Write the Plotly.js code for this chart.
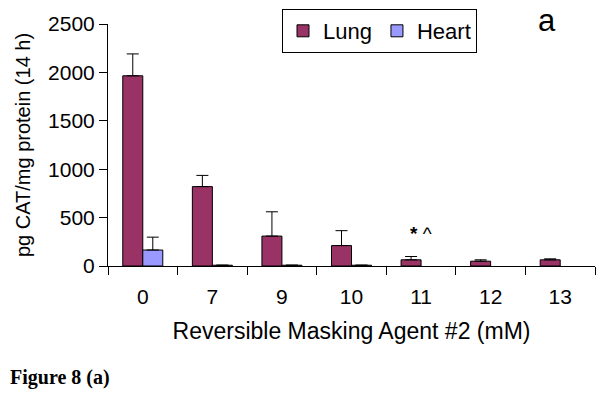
<!DOCTYPE html>
<html>
<head>
<meta charset="utf-8">
<script src="https://cdn.plot.ly/plotly-3.0.1.min.js"></script>
<style>
  body { margin: 0; background: #fff; }
  #grafico { width: 605px; height: 405px; }
</style>
</head>
<body>
<div id="grafico"></div>
<script>
const categorias = ['0', '7', '9', '10', '11', '12', '13'];
const pulmon = [1965, 820, 309, 211, 64, 50, 64];
const pulmonError = [226, 116, 251, 154, 34, 14, 10];
const corazon = [165, 8, 8, 8, null, null, null];
const corazonError = [133, 0, 0, 0, 0, 0, 0];
const ceros = [0, 0, 0, 0, 0, 0, 0];

const fuente = 'Liberation Sans, Arial, sans-serif';
const ancho = 605 - 108 - 10, alto = 405 - 23 - 139;

const trazas = [
  {
    type: 'bar', name: 'Lung', x: categorias, y: pulmon,
    marker: { color: '#993366', line: { color: '#000', width: 1 } },
    error_y: { type: 'data', symmetric: false, array: pulmonError, arrayminus: ceros, color: '#000', thickness: 1, width: 6 }
  },
  {
    type: 'bar', name: 'Heart', x: categorias, y: corazon,
    marker: { color: '#9999ff', line: { color: '#000', width: 1 } },
    error_y: { type: 'data', symmetric: false, array: corazonError, arrayminus: ceros, color: '#000', thickness: 1, width: 6 }
  }
];

const layout = {
  width: 605, height: 405,
  margin: { l: 108, r: 10, t: 23, b: 139 },
  paper_bgcolor: '#fff', plot_bgcolor: '#fff',
  barmode: 'group', bargap: 0.425, bargroupgap: 0,
  font: { family: fuente, size: 21, color: '#000' },
  showlegend: true,
  legend: {
    orientation: 'h', x: (282 - 108) / ancho, y: (266 - 9) / alto, xanchor: 'left', yanchor: 'top',
    bordercolor: '#000', borderwidth: 1, bgcolor: '#fff',
    font: { family: fuente, size: 22 }, itemwidth: 30
  },
  xaxis: {
    type: 'category', showline: true, linecolor: '#000', linewidth: 1,
    ticks: 'outside', tickson: 'boundaries', ticklen: 8, tickcolor: '#000',
    tickfont: { size: 21 }, ticklabelstandoff: 12, showgrid: false, zeroline: false,
    title: { text: 'Reversible Masking Agent #2 (mM)', font: { size: 23 }, standoff: 15 }
  },
  yaxis: {
    range: [0, 2500], dtick: 500, showline: true, linecolor: '#000', linewidth: 1,
    ticks: 'outside', ticklen: 8, tickcolor: '#000', tickfont: { size: 21 },
    showgrid: false, zeroline: false,
    title: { text: 'pg CAT/mg protein (14 h)', font: { size: 20 }, standoff: 12 }
  },
  annotations: [
    { text: 'a', x: (547 - 108) / ancho, y: (266 - 19) / alto, xref: 'paper', yref: 'paper',
      xanchor: 'center', yanchor: 'middle', showarrow: false, font: { size: 31 } },
    { text: '<b>*</b> ^', x: 4, y: 340, xref: 'x', yref: 'y', showarrow: false, font: { size: 19 } },
    { text: '<b>Figure 8 (a)</b>', x: (8 - 108) / ancho, y: (266 - 378) / alto, xref: 'paper', yref: 'paper',
      xanchor: 'left', yanchor: 'middle', showarrow: false,
      font: { family: 'Liberation Serif, Times New Roman, serif', size: 20 } }
  ]
};

Plotly.newPlot('grafico', trazas, layout, { displayModeBar: false, staticPlot: true });
</script>
</body>
</html>
